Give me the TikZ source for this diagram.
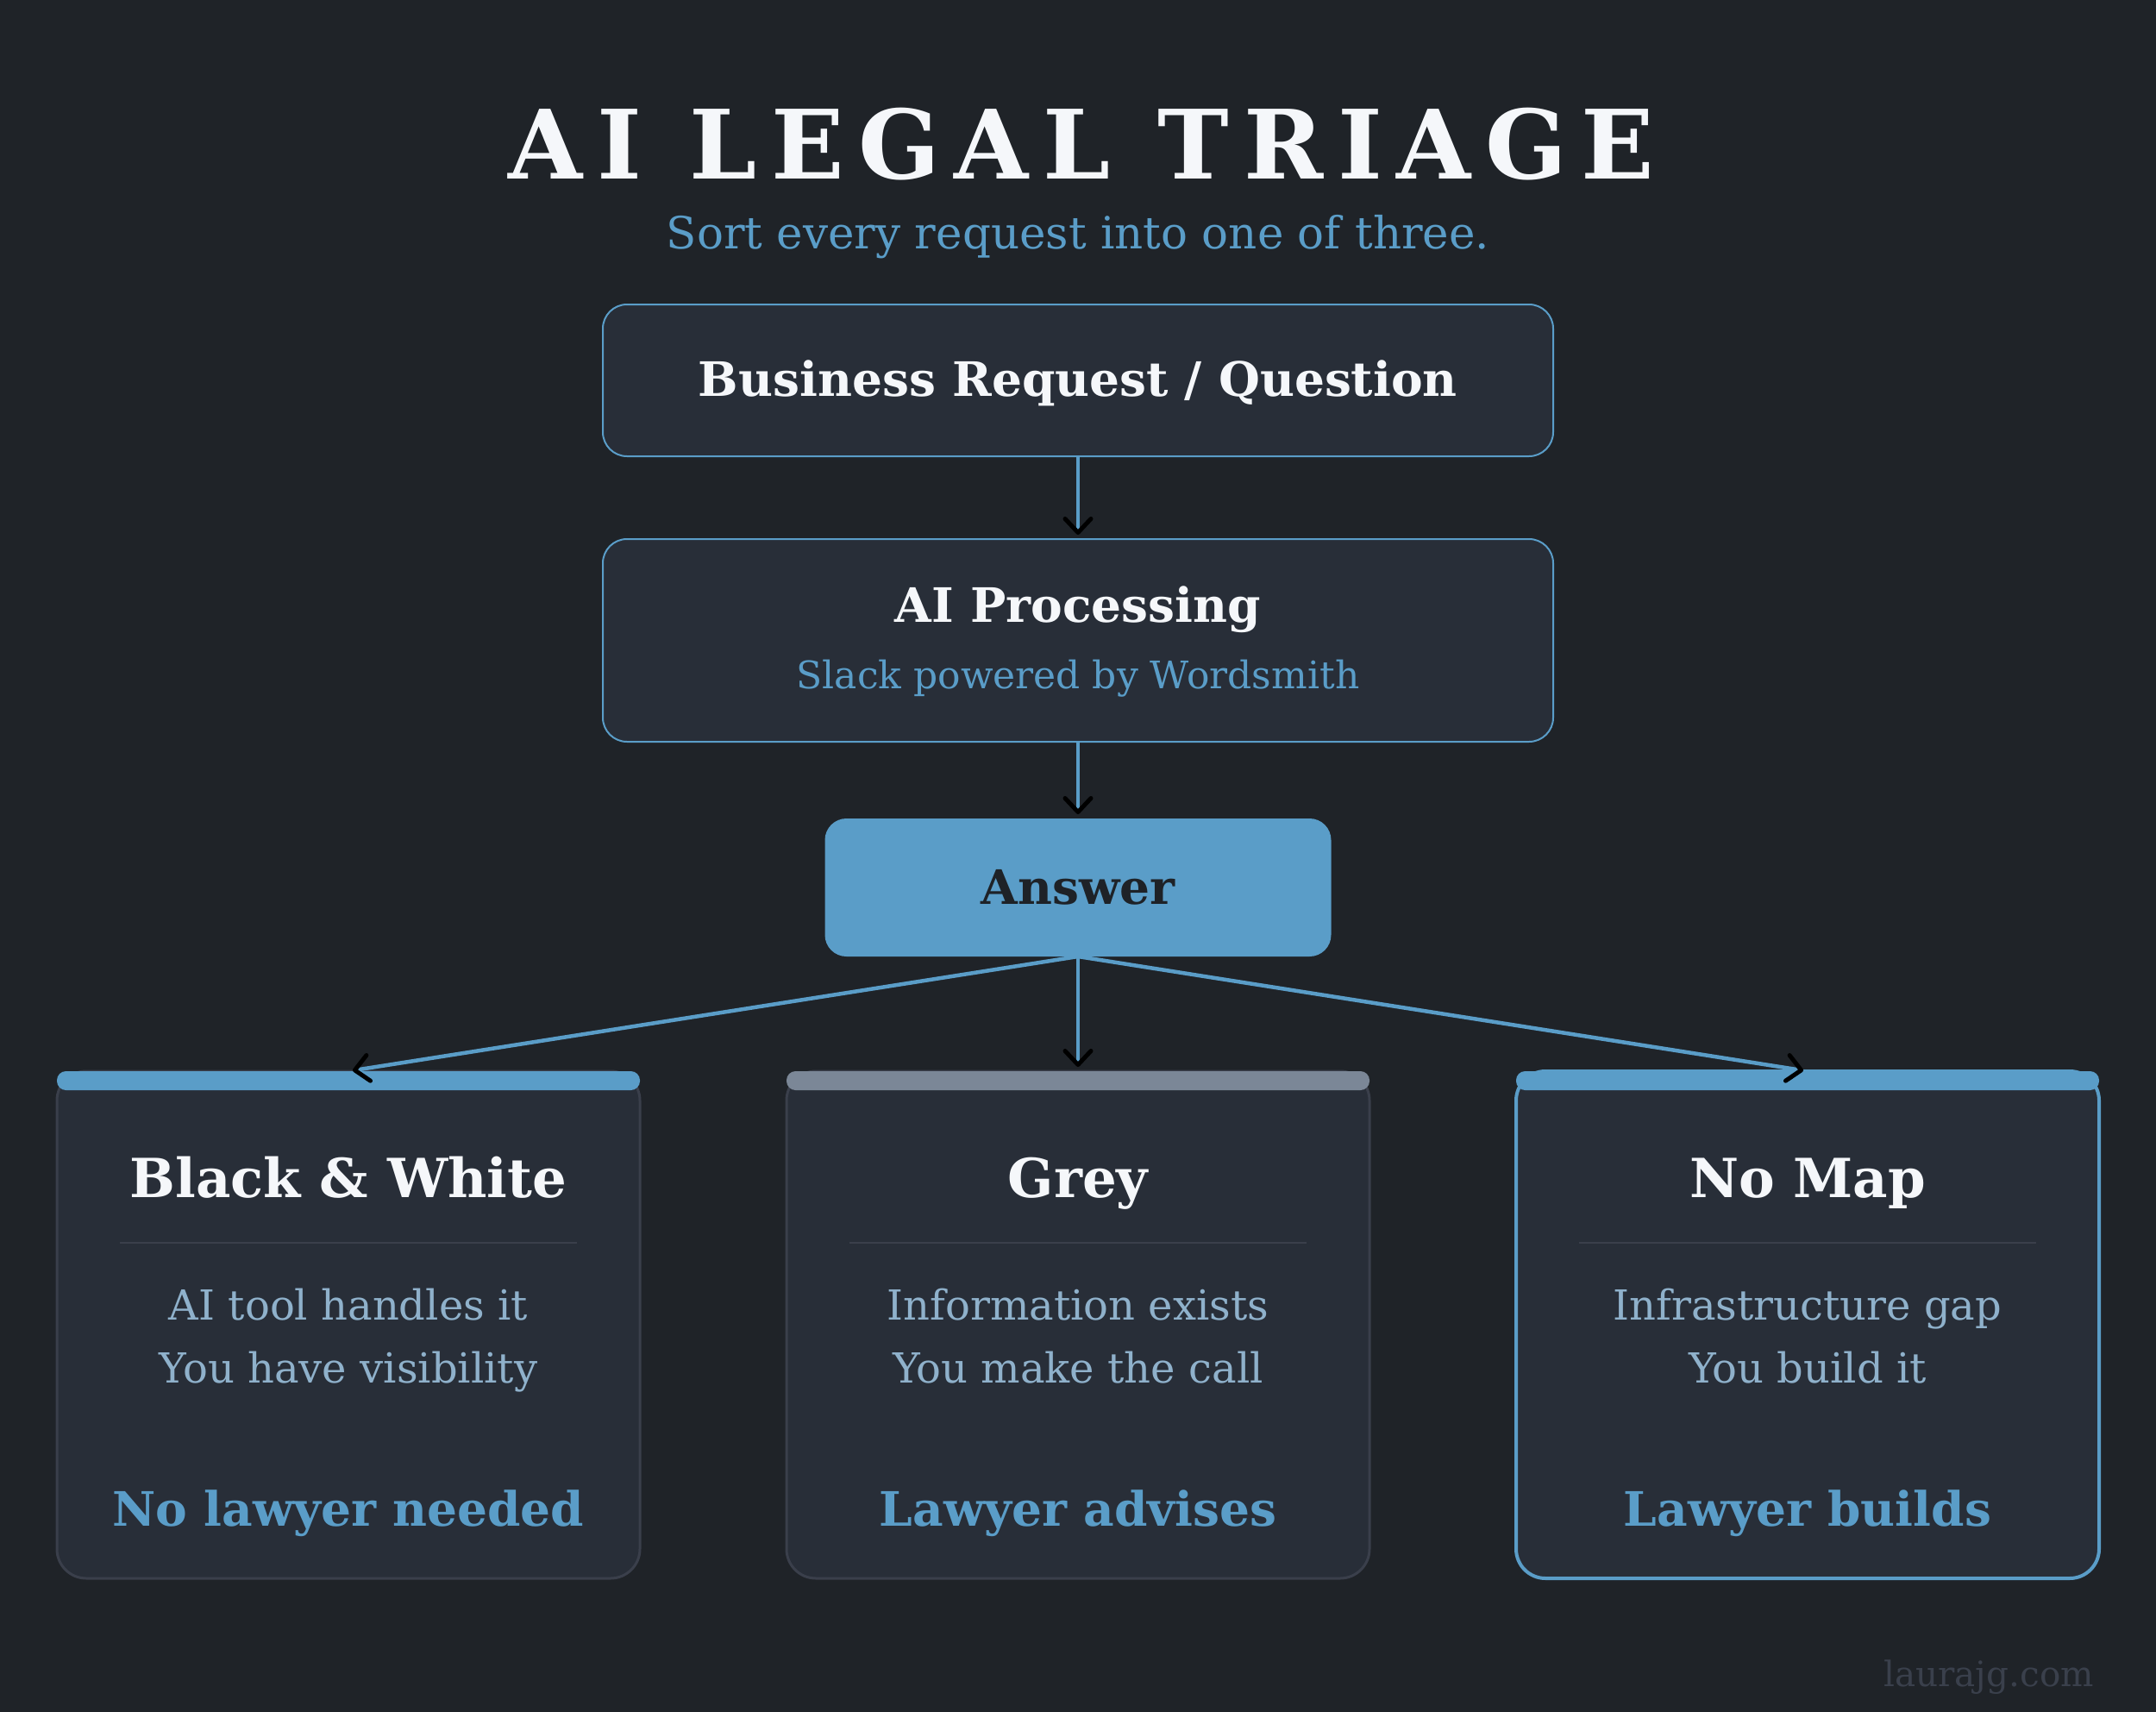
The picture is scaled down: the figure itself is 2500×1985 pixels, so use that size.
\documentclass[tikz,border=0pt]{standalone}
\usepackage{fontspec}
\setmainfont{DejaVu Serif}
\usetikzlibrary{arrows.meta}
\definecolor{bg}{HTML}{1F2328}
\definecolor{boxfill}{HTML}{282E38}
\definecolor{accent}{HTML}{5A9DC8}
\definecolor{cardline}{HTML}{3A3F4B}
\definecolor{greybar}{HTML}{7B8797}
\definecolor{bodytext}{HTML}{8FB1CB}
\definecolor{titlewhite}{HTML}{F5F7FA}
\definecolor{footer}{HTML}{3A404C}
\definecolor{dark}{HTML}{1E2227}
\tikzset{
  box/.style={draw=accent, line width=2pt, fill=boxfill, rounded corners=28pt,
    minimum width=1102pt, inner sep=0pt, outer sep=0pt},
  answerbox/.style={fill=accent, rounded corners=25pt, minimum width=587pt,
    minimum height=160pt, inner sep=0pt, outer sep=0pt},
  card/.style={draw=cardline, line width=3pt, fill=boxfill, rounded corners=34pt,
    minimum width=676pt, minimum height=588pt, inner sep=0pt, outer sep=0pt},
  conn/.style={draw=accent, line width=4.5pt,
    -{Straight Barb[length=16pt,width=30pt,line width=5pt,color=black,round]},
    shorten >=5pt},
  lbl/.style={anchor=base, inner sep=0pt},
  boxtitle/.style={lbl, text=titlewhite, font=\fontsize{55}{62}\selectfont\bfseries},
  cardtitle/.style={lbl, text=titlewhite, font=\fontsize{62.5}{70}\selectfont\bfseries},
  body/.style={lbl, text=bodytext, font=\fontsize{48}{56}\selectfont},
  verdict/.style={lbl, text=accent, font=\fontsize{55}{62}\selectfont\bfseries},
  divider/.style={draw=cardline, line width=2pt},
}
\begin{document}
\begin{tikzpicture}[x=1pt,y=-1pt]
\useasboundingbox (0,0) rectangle (2500,1985);
\fill[bg] (0,0) rectangle (2500,1985);

% title
\node[lbl, text=titlewhite, font={\fontsize{111}{120}\selectfont\bfseries\addfontfeature{LetterSpace=15}}]
  (title) at (1254,208) {AI LEGAL TRIAGE};
\node[lbl, text=accent, font=\fontsize{51.5}{58}\selectfont] (subtitle) at (1250,289)
  {Sort every request into one of three.};

% flow boxes
\node[box, minimum height=176pt] (req) at (1250,441) {};
\node[boxtitle] (reqt) at (1250,459) {Business Request / Question};

\node[box, minimum height=235pt] (proc) at (1250,742.5) {};
\node[boxtitle] (proct) at (1250,721) {AI Processing};
\node[lbl, text=accent, font=\fontsize{44}{52}\selectfont] (procs) at (1250,798)
  {Slack powered by Wordsmith};

\node[answerbox] (ans) at (1250,1029) {};
\node[lbl, text=dark, font=\fontsize{55}{62}\selectfont\bfseries] (anst) at (1250,1048) {Answer};

% cards
\node[card] (c1) at (404,1536) {};
\node[card] (c2) at (1250,1536) {};
\node[card, draw=accent, line width=4pt] (c3) at (2096,1536) {};

\fill[accent, rounded corners=10.5pt] (c1.north west) rectangle ([yshift=-22pt]c1.north east);
\fill[greybar, rounded corners=10.5pt] (c2.north west) rectangle ([yshift=-22pt]c2.north east);
\fill[accent, rounded corners=10.5pt] (c3.north west) rectangle ([yshift=-22pt]c3.north east);

% connectors
\draw[conn] (req.south) -- (proc.north);
\draw[conn] (proc.south) -- (ans.north);
\draw[conn] (ans.south) -- (c1.north);
\draw[conn] (ans.south) -- (c2.north);
\draw[conn] (ans.south) -- (c3.north);

% card 1
\node[cardtitle] (c1t) at (404,1388) {Black \& White};
\draw[divider] (139,1441) -- (669,1441);
\node[body] (c1a) at (404,1530) {AI tool handles it};
\node[body] (c1b) at (404,1603) {You have visibility};
\node[verdict] (c1v) at (404,1769) {No lawyer needed};

% card 2
\node[cardtitle] (c2t) at (1250,1388) {Grey};
\draw[divider] (985,1441) -- (1515,1441);
\node[body] (c2a) at (1250,1530) {Information exists};
\node[body] (c2b) at (1250,1603) {You make the call};
\node[verdict] (c2v) at (1250,1769) {Lawyer advises};

% card 3
\node[cardtitle] (c3t) at (2096,1388) {No Map};
\draw[divider] (1831,1441) -- (2361,1441);
\node[body] (c3a) at (2096,1530) {Infrastructure gap};
\node[body] (c3b) at (2096,1603) {You build it};
\node[verdict] (c3v) at (2096,1769) {Lawyer builds};

% footer
\node[anchor=base east, inner sep=0pt, text=footer, font=\fontsize{40.5}{46}\selectfont]
  (foot) at (2428,1955) {laurajg.com};
\end{tikzpicture}
\end{document}
